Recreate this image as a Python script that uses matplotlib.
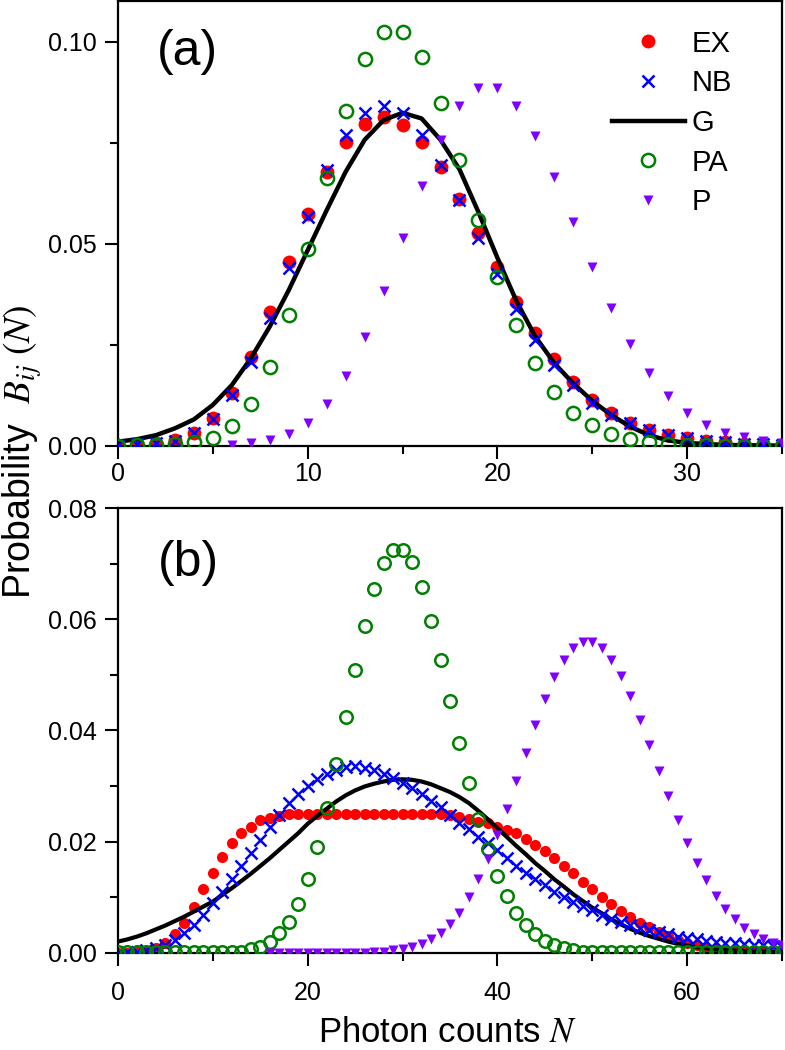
import numpy as np
import matplotlib
matplotlib.use("Agg")
import matplotlib.pyplot as plt
from matplotlib.lines import Line2D

plt.rcParams['font.family'] = ['Liberation Sans', 'DejaVu Sans']
plt.rcParams['mathtext.fontset'] = 'stix'

# ---------------- Panel (a) data: N = 0..35 ----------------
N_a = list(range(0, 36))
EX_a = [0.0001, 0.0003, 0.0007, 0.0015, 0.0031, 0.0068, 0.0130, 0.0220, 0.0332, 0.0454,
        0.0573, 0.0677, 0.0752, 0.0796, 0.0814, 0.0794, 0.0752, 0.0690, 0.0611, 0.0527,
        0.0443, 0.0356, 0.0280, 0.0214, 0.0158, 0.0113, 0.0080, 0.0055, 0.0039, 0.0026,
        0.0018, 0.0012, 0.0008, 0.0005, 0.0003, 0.0002]
NB_a = [0.0001, 0.0003, 0.0006, 0.0012, 0.0031, 0.0065, 0.0125, 0.0208, 0.0315, 0.0441,
        0.0567, 0.0682, 0.0769, 0.0824, 0.0841, 0.0823, 0.0769, 0.0695, 0.0608, 0.0513,
        0.0425, 0.0338, 0.0262, 0.0200, 0.0150, 0.0105, 0.0077, 0.0055, 0.0039, 0.0027,
        0.0018, 0.0012, 0.0008, 0.0005, 0.0003, 0.0002]
G_a = [0.0010, 0.0016, 0.0026, 0.0043, 0.0065, 0.0101, 0.0150, 0.0216, 0.0295, 0.0385,
       0.0484, 0.0583, 0.0678, 0.0757, 0.0806, 0.0824, 0.0810, 0.0757, 0.0684, 0.0578,
       0.0465, 0.0358, 0.0270, 0.0204, 0.0154, 0.0111, 0.0076, 0.0047, 0.0026, 0.0013,
       0.0007, 0.0004, 0.0002, 0.0001, 0.0001, 0.0000]
PA_a = [0.0000, 0.0001, 0.0002, 0.0004, 0.0010, 0.0018, 0.0049, 0.0103, 0.0194, 0.0324,
        0.0486, 0.0662, 0.0828, 0.0956, 0.1025, 0.1025, 0.0962, 0.0848, 0.0707, 0.0559,
        0.0418, 0.0299, 0.0204, 0.0132, 0.0082, 0.0050, 0.0029, 0.0016, 0.0009, 0.0005,
        0.0002, 0.0001, 0.0000, 0.0000, 0.0000, 0.0000]
N_P_a = list(range(6, 36))
P_a = [0.0002, 0.0006, 0.0013, 0.0028, 0.0055, 0.0103, 0.0173, 0.0268, 0.0384, 0.0515,
       0.0643, 0.0757, 0.0841, 0.0885, 0.0885, 0.0842, 0.0767, 0.0666, 0.0554, 0.0443,
       0.0340, 0.0251, 0.0179, 0.0123, 0.0080, 0.0051, 0.0032, 0.0021, 0.0012, 0.0007]

# ---------------- Panel (b) data: N = 0..70 ----------------
N_b = list(range(0, 71))
EX_b = [0.0000, 0.0000, 0.0001, 0.0003, 0.0008, 0.0017, 0.0033, 0.0053, 0.0083, 0.0114,
        0.0144, 0.0173, 0.0197, 0.0215, 0.0227, 0.0238, 0.0243, 0.0246, 0.0249, 0.0249,
        0.0249, 0.0249, 0.0249, 0.0249, 0.0249, 0.0249, 0.0249, 0.0249, 0.0249, 0.0249,
        0.0249, 0.0249, 0.0249, 0.0249, 0.0249, 0.0247, 0.0244, 0.0240, 0.0236, 0.0233,
        0.0227, 0.0221, 0.0215, 0.0204, 0.0194, 0.0183, 0.0170, 0.0156, 0.0143, 0.0128,
        0.0114, 0.0101, 0.0088, 0.0075, 0.0065, 0.0054, 0.0046, 0.0037, 0.0030, 0.0023,
        0.0018, 0.0013, 0.0009, 0.0006, 0.0004, 0.0003, 0.0002, 0.0001, 0.0001, 0.0000,
        0.0000]
NB_b = [0.0000, 0.0001, 0.0002, 0.0005, 0.0008, 0.0014, 0.0023, 0.0035, 0.0050, 0.0068,
        0.0089, 0.0110, 0.0133, 0.0156, 0.0180, 0.0203, 0.0226, 0.0248, 0.0269, 0.0286,
        0.0300, 0.0312, 0.0321, 0.0329, 0.0334, 0.0335, 0.0333, 0.0328, 0.0322, 0.0315,
        0.0306, 0.0296, 0.0285, 0.0273, 0.0262, 0.0247, 0.0234, 0.0222, 0.0209, 0.0197,
        0.0184, 0.0170, 0.0156, 0.0143, 0.0132, 0.0122, 0.0110, 0.0101, 0.0092, 0.0084,
        0.0076, 0.0068, 0.0061, 0.0055, 0.0050, 0.0045, 0.0041, 0.0037, 0.0033, 0.0029,
        0.0026, 0.0024, 0.0021, 0.0020, 0.0018, 0.0017, 0.0015, 0.0014, 0.0013, 0.0012,
        0.0011]
G_b = [0.0020, 0.0024, 0.0029, 0.0035, 0.0042, 0.0049, 0.0057, 0.0065, 0.0074, 0.0083,
       0.0092, 0.0104, 0.0116, 0.0129, 0.0142, 0.0156, 0.0170, 0.0185, 0.0200, 0.0215,
       0.0232, 0.0246, 0.0259, 0.0272, 0.0283, 0.0292, 0.0299, 0.0304, 0.0308, 0.0311,
       0.0312, 0.0311, 0.0308, 0.0303, 0.0296, 0.0289, 0.0280, 0.0269, 0.0255, 0.0240,
       0.0224, 0.0208, 0.0192, 0.0177, 0.0161, 0.0147, 0.0132, 0.0119, 0.0105, 0.0093,
       0.0081, 0.0071, 0.0060, 0.0051, 0.0043, 0.0036, 0.0030, 0.0025, 0.0020, 0.0016,
       0.0013, 0.0010, 0.0008, 0.0006, 0.0005, 0.0004, 0.0003, 0.0002, 0.0002, 0.0001,
       0.0001]
PA_b = [0.0001, 0.0001, 0.0001, 0.0001, 0.0001, 0.0001, 0.0001, 0.0001, 0.0001, 0.0001,
        0.0001, 0.0001, 0.0001, 0.0002, 0.0006, 0.0010, 0.0020, 0.0035, 0.0055, 0.0088,
        0.0133, 0.0190, 0.0261, 0.0339, 0.0424, 0.0509, 0.0588, 0.0654, 0.0701, 0.0724,
        0.0724, 0.0702, 0.0657, 0.0597, 0.0527, 0.0452, 0.0377, 0.0305, 0.0240, 0.0186,
        0.0138, 0.0102, 0.0071, 0.0050, 0.0034, 0.0021, 0.0014, 0.0008, 0.0004, 0.0002,
        0.0001, 0.0001, 0.0001, 0.0001, 0.0001, 0.0001, 0.0001, 0.0001, 0.0001, 0.0001,
        0.0001, 0.0001, 0.0001, 0.0001, 0.0001, 0.0001, 0.0001, 0.0001, 0.0001, 0.0001,
        0.0001]
N_P_b = list(range(16, 71))
P_b = [0.0000, 0.0000, 0.0000, 0.0000, 0.0000, 0.0000, 0.0000, 0.0000, 0.0000, 0.0000,
       0.0000, 0.0001, 0.0002, 0.0004, 0.0007, 0.0010, 0.0016, 0.0024, 0.0036, 0.0051,
       0.0072, 0.0100, 0.0132, 0.0168, 0.0212, 0.0259, 0.0309, 0.0360, 0.0409, 0.0456,
       0.0496, 0.0527, 0.0548, 0.0559, 0.0559, 0.0548, 0.0527, 0.0498, 0.0461, 0.0419,
       0.0373, 0.0327, 0.0281, 0.0239, 0.0198, 0.0161, 0.0130, 0.0102, 0.0079, 0.0060,
       0.0045, 0.0034, 0.0024, 0.0017, 0.0013]

labels = ["EX", "NB", "G", "PA", "P"]
C_EX, C_NB, C_G, C_PA, C_P = "#ff0000", "#0000ff", "#000000", "#008000", "#8000ff"

W, H = 785, 1050
fig = plt.figure(figsize=(W / 100, H / 100), dpi=100)

ax_a = fig.add_axes([118 / W, 1 - 445.7 / H, 664 / W, 444.4 / H])
ax_b = fig.add_axes([118 / W, 1 - 952.7 / H, 664 / W, 444.7 / H])


def style(ax, xmaj, xmin, ymaj, ymin, xpad):
    for s in ax.spines.values():
        s.set_linewidth(1.6)
    ax.set_xticks(xmaj)
    ax.set_xticks(xmin, minor=True)
    ax.set_yticks(ymaj)
    ax.set_yticks(ymin, minor=True)
    ax.tick_params(which='major', direction='out', length=9.5, width=1.5,
                   labelsize=18, top=False, right=False)
    ax.tick_params(which='minor', direction='out', length=5.5, width=1.5,
                   top=False, right=False)
    ax.tick_params(axis='x', which='major', pad=xpad)
    ax.tick_params(axis='y', which='major', pad=5.5)


# panel (a)
ax = ax_a
ax.plot(N_a, EX_a, 'o', color=C_EX, ms=10, mec='none', zorder=2)
ax.plot(N_a, G_a, '-', color=C_G, lw=3.2, zorder=3)
ax.plot(N_a, NB_a, 'x', color=C_NB, ms=8, mew=1.8, zorder=4)
ax.plot(N_a, PA_a, 'o', color=C_PA, ms=9.5, mfc='none', mew=1.8, zorder=5)
ax.plot(N_P_a, P_a, 'v', color=C_P, ms=7.5, mec='none', zorder=6)
ax.set_xlim(0, 35)
ax.set_ylim(0, 0.11)
style(ax, [0, 10, 20, 30], [5, 15, 25, 35], [0, 0.05, 0.10], [0.025, 0.075], 2)
ax.set_yticklabels(["0.00", "0.05", "0.10"])
ax.text(187 / W, 1 - 52 / H, "(a)", transform=fig.transFigure, fontsize=36,
        ha='center', va='center')

handles = [
    Line2D([], [], ls='none', marker='o', color=C_EX, ms=10, mec='none'),
    Line2D([], [], ls='none', marker='x', color=C_NB, ms=8, mew=1.8),
    Line2D([], [], ls='-', color=C_G, lw=3.2),
    Line2D([], [], ls='none', marker='o', color=C_PA, ms=9.5, mfc='none', mew=1.8),
    Line2D([], [], ls='none', marker='v', color=C_P, ms=7.5, mec='none'),
]
fig.legend(handles, labels, loc='center', bbox_to_anchor=(672 / W, 1 - 123 / H),
           frameon=False, fontsize=21, handlelength=2.5, handletextpad=0.25,
           labelspacing=0.40, borderpad=0, borderaxespad=0)

# panel (b)
ax = ax_b
ax.plot(N_b, EX_b, 'o', color=C_EX, ms=8, mec='none', zorder=2)
ax.plot(N_b, G_b, '-', color=C_G, lw=3.0, zorder=3)
ax.plot(N_b, NB_b, 'x', color=C_NB, ms=8, mew=1.8, zorder=4)
ax.plot(N_b, PA_b, 'o', color=C_PA, ms=9, mfc='none', mew=1.8, zorder=5)
ax.plot(N_P_b, P_b, 'v', color=C_P, ms=7.5, mec='none', zorder=6)
ax.set_xlim(0, 70)
ax.set_ylim(0, 0.08)
style(ax, [0, 20, 40, 60], [10, 30, 50, 70], [0, 0.02, 0.04, 0.06, 0.08],
      [0.01, 0.03, 0.05, 0.07], 11)
ax.set_yticklabels(["0.00", "0.02", "0.04", "0.06", "0.08"])
ax.text(188 / W, 1 - 563 / H, "(b)", transform=fig.transFigure, fontsize=36,
        ha='center', va='center')

fig.text(1 / W, 1 - 452 / H, r"Probability  $B_{ij}\ (N)$", rotation=90,
         ha='left', va='center', fontsize=27)
fig.text(448 / W, 1 - 1032 / H, r"Photon counts $N$", ha='center', va='center',
         fontsize=25)

fig.savefig("out.png", dpi=100)
